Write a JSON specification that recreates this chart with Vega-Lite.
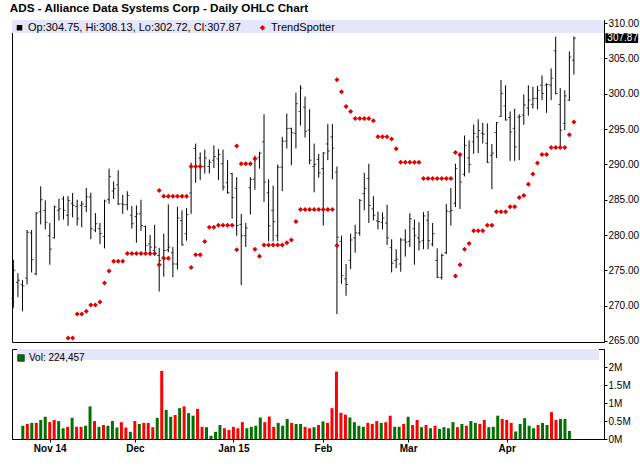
{
  "$schema": "https://vega.github.io/schema/vega-lite/v6.json",
  "background": "white",
  "padding": {"left": 9, "top": 2, "right": 0, "bottom": 0},
  "title": {"text": "ADS - Alliance Data Systems Corp - Daily OHLC Chart", "anchor": "start", "offset": 3, "dx": -1, "fontSize": 11.7, "font": "Liberation Sans", "fontWeight": "bold", "color": "black"},
  "datasets": {
    "ohlc": [
      {"i": 0, "date": "2014-10-23", "o": 271.0, "h": 276.5, "l": 269.7, "c": 275.0, "v": null},
      {"i": 1, "date": "2014-10-24", "o": 273.3, "h": 274.6, "l": 271.2, "c": 273.6, "v": 370000},
      {"i": 2, "date": "2014-10-27", "o": 273.0, "h": 273.6, "l": 269.2, "c": 272.8, "v": 420000},
      {"i": 3, "date": "2014-10-28", "o": 273.9, "h": 280.7, "l": 273.0, "c": 280.4, "v": 450000},
      {"i": 4, "date": "2014-10-29", "o": 280.3, "h": 280.7, "l": 274.7, "c": 276.5, "v": 450000},
      {"i": 5, "date": "2014-10-30", "o": 274.5, "h": 283.25, "l": 274.3, "c": 283.1, "v": 530000},
      {"i": 6, "date": "2014-10-31", "o": 283.3, "h": 286.9, "l": 281.5, "c": 285.0, "v": 620000},
      {"i": 7, "date": "2014-11-03", "o": 283.5, "h": 284.9, "l": 280.8, "c": 281.8, "v": 470000},
      {"i": 8, "date": "2014-11-04", "o": 279.9, "h": 281.7, "l": 275.8, "c": 278.0, "v": 530000},
      {"i": 9, "date": "2014-11-05", "o": 279.6, "h": 284.15, "l": 279.5, "c": 284.0, "v": 500000},
      {"i": 10, "date": "2014-11-06", "o": 283.5, "h": 285.14, "l": 282.06, "c": 283.7, "v": 300000},
      {"i": 11, "date": "2014-11-07", "o": 285.1, "h": 285.5, "l": 282.2, "c": 283.5, "v": 340000},
      {"i": 12, "date": "2014-11-10", "o": 282.8, "h": 285.5, "l": 281.3, "c": 284.9, "v": 590000},
      {"i": 13, "date": "2014-11-11", "o": 284.5, "h": 285.95, "l": 282.5, "c": 284.2, "v": 340000},
      {"i": 14, "date": "2014-11-12", "o": 284.05, "h": 285.0, "l": 281.35, "c": 282.3, "v": 340000},
      {"i": 15, "date": "2014-11-13", "o": 284.2, "h": 284.8, "l": 281.1, "c": 284.4, "v": 370000},
      {"i": 16, "date": "2014-11-14", "o": 284.05, "h": 286.66, "l": 283.25, "c": 285.4, "v": 910000},
      {"i": 17, "date": "2014-11-17", "o": 285.4, "h": 286.0, "l": 279.4, "c": 280.9, "v": 500000},
      {"i": 18, "date": "2014-11-18", "o": 280.7, "h": 283.1, "l": 280.4, "c": 281.6, "v": 340000},
      {"i": 19, "date": "2014-11-19", "o": 280.9, "h": 281.7, "l": 278.7, "c": 280.2, "v": 390000},
      {"i": 20, "date": "2014-11-20", "o": 279.8, "h": 285.0, "l": 278.1, "c": 284.8, "v": 370000},
      {"i": 21, "date": "2014-11-21", "o": 285.05, "h": 289.4, "l": 284.43, "c": 288.3, "v": 500000},
      {"i": 22, "date": "2014-11-24", "o": 286.23, "h": 287.6, "l": 285.1, "c": 286.56, "v": 320000},
      {"i": 23, "date": "2014-11-25", "o": 287.1, "h": 289.17, "l": 284.24, "c": 284.4, "v": 470000},
      {"i": 24, "date": "2014-11-26", "o": 284.4, "h": 285.7, "l": 283.0, "c": 284.3, "v": 320000},
      {"i": 25, "date": "2014-11-28", "o": 284.3, "h": 286.2, "l": 283.5, "c": 285.6, "v": 200000},
      {"i": 26, "date": "2014-12-01", "o": 282.8, "h": 284.1, "l": 280.9, "c": 281.6, "v": 500000},
      {"i": 27, "date": "2014-12-02", "o": 282.6, "h": 284.2, "l": 278.9, "c": 283.0, "v": 420000},
      {"i": 28, "date": "2014-12-03", "o": 283.0, "h": 285.0, "l": 280.6, "c": 281.35, "v": 450000},
      {"i": 29, "date": "2014-12-04", "o": 281.2, "h": 281.35, "l": 277.7, "c": 278.5, "v": 450000},
      {"i": 30, "date": "2014-12-05", "o": 278.75, "h": 280.0, "l": 277.1, "c": 278.3, "v": 330000},
      {"i": 31, "date": "2014-12-08", "o": 277.8, "h": 281.45, "l": 277.1, "c": 278.3, "v": 590000},
      {"i": 32, "date": "2014-12-09", "o": 277.1, "h": 278.2, "l": 272.0, "c": 276.4, "v": 1900000},
      {"i": 33, "date": "2014-12-10", "o": 276.9, "h": 280.2, "l": 274.1, "c": 277.8, "v": 810000},
      {"i": 34, "date": "2014-12-11", "o": 277.9, "h": 284.34, "l": 277.57, "c": 278.3, "v": 620000},
      {"i": 35, "date": "2014-12-12", "o": 277.5, "h": 278.3, "l": 274.0, "c": 275.9, "v": 670000},
      {"i": 36, "date": "2014-12-15", "o": 275.9, "h": 284.0, "l": 275.1, "c": 282.4, "v": 860000},
      {"i": 37, "date": "2014-12-16", "o": 282.06, "h": 283.5, "l": 278.5, "c": 278.6, "v": 910000},
      {"i": 38, "date": "2014-12-17", "o": 280.2, "h": 283.8, "l": 279.2, "c": 282.9, "v": 720000},
      {"i": 39, "date": "2014-12-18", "o": 285.95, "h": 290.25, "l": 283.0, "c": 289.7, "v": 650000},
      {"i": 40, "date": "2014-12-19", "o": 292.25, "h": 292.95, "l": 287.4, "c": 289.7, "v": 840000},
      {"i": 41, "date": "2014-12-22", "o": 290.9, "h": 291.7, "l": 287.8, "c": 289.7, "v": 340000},
      {"i": 42, "date": "2014-12-23", "o": 289.7, "h": 292.1, "l": 288.7, "c": 290.9, "v": 330000},
      {"i": 43, "date": "2014-12-24", "o": 289.7, "h": 290.7, "l": 288.7, "c": 290.3, "v": 90000},
      {"i": 44, "date": "2014-12-26", "o": 290.6, "h": 292.7, "l": 289.5, "c": 291.1, "v": 200000},
      {"i": 45, "date": "2014-12-29", "o": 290.8, "h": 292.2, "l": 287.8, "c": 291.4, "v": 390000},
      {"i": 46, "date": "2014-12-30", "o": 290.1, "h": 292.1, "l": 286.3, "c": 286.8, "v": 300000},
      {"i": 47, "date": "2014-12-31", "o": 287.4, "h": 290.6, "l": 285.85, "c": 286.0, "v": 250000},
      {"i": 48, "date": "2015-01-02", "o": 288.7, "h": 288.8, "l": 282.3, "c": 285.3, "v": 340000},
      {"i": 49, "date": "2015-01-05", "o": 286.6, "h": 288.2, "l": 279.9, "c": 281.35, "v": 300000},
      {"i": 50, "date": "2015-01-06", "o": 281.5, "h": 283.0, "l": 272.9, "c": 279.9, "v": 470000},
      {"i": 51, "date": "2015-01-07", "o": 279.9, "h": 281.7, "l": 278.3, "c": 281.0, "v": 300000},
      {"i": 52, "date": "2015-01-08", "o": 286.7, "h": 288.2, "l": 282.9, "c": 287.9, "v": 340000},
      {"i": 53, "date": "2015-01-09", "o": 287.9, "h": 291.25, "l": 286.4, "c": 290.8, "v": 370000},
      {"i": 54, "date": "2015-01-12", "o": 291.0, "h": 291.8, "l": 289.4, "c": 291.6, "v": 600000},
      {"i": 55, "date": "2015-01-13", "o": 293.2, "h": 297.1, "l": 284.7, "c": 287.5, "v": 470000},
      {"i": 56, "date": "2015-01-14", "o": 286.0, "h": 287.9, "l": 279.1, "c": 281.3, "v": 630000},
      {"i": 57, "date": "2015-01-15", "o": 283.5, "h": 287.0, "l": 279.1, "c": 281.9, "v": 340000},
      {"i": 58, "date": "2015-01-16", "o": 279.9, "h": 289.97, "l": 279.1, "c": 289.6, "v": 450000},
      {"i": 59, "date": "2015-01-20", "o": 289.6, "h": 293.9, "l": 286.2, "c": 293.3, "v": 370000},
      {"i": 60, "date": "2015-01-21", "o": 293.3, "h": 297.2, "l": 292.25, "c": 295.1, "v": 560000},
      {"i": 61, "date": "2015-01-22", "o": 295.1, "h": 295.2, "l": 289.9, "c": 294.5, "v": 450000},
      {"i": 62, "date": "2015-01-23", "o": 294.4, "h": 300.15, "l": 292.25, "c": 298.6, "v": 420000},
      {"i": 63, "date": "2015-01-26", "o": 297.5, "h": 301.2, "l": 295.5, "c": 300.8, "v": 420000},
      {"i": 64, "date": "2015-01-27", "o": 298.1, "h": 299.6, "l": 293.8, "c": 294.7, "v": 340000},
      {"i": 65, "date": "2015-01-28", "o": 294.85, "h": 297.8, "l": 290.0, "c": 290.6, "v": 300000},
      {"i": 66, "date": "2015-01-29", "o": 289.7, "h": 292.95, "l": 286.05, "c": 290.0, "v": 330000},
      {"i": 67, "date": "2015-01-30", "o": 290.7, "h": 291.5, "l": 288.1, "c": 288.8, "v": 390000},
      {"i": 68, "date": "2015-02-02", "o": 289.4, "h": 291.75, "l": 281.35, "c": 291.6, "v": 490000},
      {"i": 69, "date": "2015-02-03", "o": 292.9, "h": 295.7, "l": 290.6, "c": 291.9, "v": 450000},
      {"i": 70, "date": "2015-02-04", "o": 293.9, "h": 295.75, "l": 287.9, "c": 292.3, "v": 860000},
      {"i": 71, "date": "2015-02-05", "o": 288.9, "h": 289.7, "l": 268.8, "c": 279.7, "v": 1880000},
      {"i": 72, "date": "2015-02-06", "o": 279.1, "h": 279.9, "l": 273.1, "c": 274.25, "v": 730000},
      {"i": 73, "date": "2015-02-09", "o": 273.8, "h": 275.9, "l": 271.4, "c": 273.0, "v": 680000},
      {"i": 74, "date": "2015-02-10", "o": 276.4, "h": 280.2, "l": 275.2, "c": 279.3, "v": 600000},
      {"i": 75, "date": "2015-02-11", "o": 279.6, "h": 281.45, "l": 277.5, "c": 280.3, "v": 470000},
      {"i": 76, "date": "2015-02-12", "o": 280.3, "h": 285.1, "l": 279.9, "c": 284.9, "v": 370000},
      {"i": 77, "date": "2015-02-13", "o": 285.85, "h": 288.8, "l": 283.5, "c": 286.6, "v": 340000},
      {"i": 78, "date": "2015-02-17", "o": 288.0, "h": 290.1, "l": 281.7, "c": 284.2, "v": 450000},
      {"i": 79, "date": "2015-02-18", "o": 283.7, "h": 285.5, "l": 282.06, "c": 282.8, "v": 420000},
      {"i": 80, "date": "2015-02-19", "o": 282.0, "h": 283.3, "l": 280.8, "c": 281.9, "v": 500000},
      {"i": 81, "date": "2015-02-20", "o": 281.8, "h": 283.2, "l": 280.8, "c": 282.4, "v": 450000},
      {"i": 82, "date": "2015-02-23", "o": 281.7, "h": 284.3, "l": 278.6, "c": 279.6, "v": 470000},
      {"i": 83, "date": "2015-02-24", "o": 278.2, "h": 279.4, "l": 274.7, "c": 276.0, "v": 650000},
      {"i": 84, "date": "2015-02-25", "o": 276.4, "h": 278.0, "l": 275.3, "c": 276.6, "v": 340000},
      {"i": 85, "date": "2015-02-26", "o": 275.9, "h": 279.6, "l": 274.8, "c": 279.3, "v": 340000},
      {"i": 86, "date": "2015-02-27", "o": 279.3, "h": 280.8, "l": 276.95, "c": 279.0, "v": 420000},
      {"i": 87, "date": "2015-03-02", "o": 279.1, "h": 283.1, "l": 278.3, "c": 282.3, "v": 620000},
      {"i": 88, "date": "2015-03-03", "o": 280.9, "h": 282.2, "l": 275.8, "c": 279.9, "v": 390000},
      {"i": 89, "date": "2015-03-04", "o": 279.6, "h": 281.8, "l": 277.8, "c": 279.0, "v": 530000},
      {"i": 90, "date": "2015-03-05", "o": 279.2, "h": 283.25, "l": 278.0, "c": 282.7, "v": 330000},
      {"i": 91, "date": "2015-03-06", "o": 282.1, "h": 283.4, "l": 278.0, "c": 279.2, "v": 390000},
      {"i": 92, "date": "2015-03-09", "o": 278.7, "h": 281.7, "l": 278.4, "c": 280.2, "v": 300000},
      {"i": 93, "date": "2015-03-10", "o": 276.4, "h": 278.1, "l": 273.9, "c": 274.0, "v": 370000},
      {"i": 94, "date": "2015-03-11", "o": 274.0, "h": 277.4, "l": 273.7, "c": 277.1, "v": 280000},
      {"i": 95, "date": "2015-03-12", "o": 277.5, "h": 284.4, "l": 277.3, "c": 283.4, "v": 330000},
      {"i": 96, "date": "2015-03-13", "o": 283.3, "h": 286.66, "l": 281.35, "c": 283.5, "v": 300000},
      {"i": 97, "date": "2015-03-16", "o": 284.5, "h": 290.1, "l": 283.96, "c": 289.4, "v": 470000},
      {"i": 98, "date": "2015-03-17", "o": 291.2, "h": 291.3, "l": 283.7, "c": 287.5, "v": 330000},
      {"i": 99, "date": "2015-03-18", "o": 288.6, "h": 294.1, "l": 288.3, "c": 292.7, "v": 420000},
      {"i": 100, "date": "2015-03-19", "o": 290.9, "h": 293.4, "l": 288.8, "c": 290.0, "v": 370000},
      {"i": 101, "date": "2015-03-20", "o": 293.2, "h": 295.65, "l": 291.5, "c": 294.4, "v": 500000},
      {"i": 102, "date": "2015-03-23", "o": 293.9, "h": 296.4, "l": 291.6, "c": 294.8, "v": 450000},
      {"i": 103, "date": "2015-03-24", "o": 294.4, "h": 295.9, "l": 292.95, "c": 294.3, "v": 420000},
      {"i": 104, "date": "2015-03-25", "o": 293.0, "h": 295.8, "l": 290.2, "c": 290.3, "v": 530000},
      {"i": 105, "date": "2015-03-26", "o": 291.3, "h": 292.9, "l": 286.5, "c": 291.6, "v": 330000},
      {"i": 106, "date": "2015-03-27", "o": 294.5, "h": 296.0, "l": 290.9, "c": 295.9, "v": 340000},
      {"i": 107, "date": "2015-03-30", "o": 296.8, "h": 301.95, "l": 296.75, "c": 300.05, "v": 650000},
      {"i": 108, "date": "2015-03-31", "o": 298.3, "h": 301.2, "l": 296.2, "c": 296.3, "v": 560000},
      {"i": 109, "date": "2015-04-01", "o": 296.65, "h": 297.5, "l": 290.5, "c": 294.6, "v": 530000},
      {"i": 110, "date": "2015-04-02", "o": 295.1, "h": 297.9, "l": 290.5, "c": 292.5, "v": 450000},
      {"i": 111, "date": "2015-04-06", "o": 296.7, "h": 297.1, "l": 290.6, "c": 296.8, "v": 210000},
      {"i": 112, "date": "2015-04-07", "o": 297.0, "h": 299.9, "l": 295.6, "c": 298.4, "v": 420000},
      {"i": 113, "date": "2015-04-08", "o": 298.0, "h": 301.2, "l": 296.9, "c": 299.1, "v": 580000},
      {"i": 114, "date": "2015-04-09", "o": 298.5, "h": 301.0, "l": 297.9, "c": 299.35, "v": 370000},
      {"i": 115, "date": "2015-04-10", "o": 299.35, "h": 301.15, "l": 297.8, "c": 300.5, "v": 300000},
      {"i": 116, "date": "2015-04-13", "o": 301.2, "h": 302.6, "l": 299.1, "c": 300.05, "v": 390000},
      {"i": 117, "date": "2015-04-14", "o": 301.25, "h": 301.5, "l": 297.3, "c": 301.3, "v": 450000},
      {"i": 118, "date": "2015-04-15", "o": 301.25, "h": 303.6, "l": 299.1, "c": 302.2, "v": 390000},
      {"i": 119, "date": "2015-04-16", "o": 306.1, "h": 308.1, "l": 299.9, "c": 300.05, "v": 750000},
      {"i": 120, "date": "2015-04-17", "o": 298.5, "h": 300.8, "l": 292.5, "c": 294.85, "v": 530000},
      {"i": 121, "date": "2015-04-20", "o": 295.8, "h": 300.5, "l": 294.85, "c": 299.7, "v": 560000},
      {"i": 122, "date": "2015-04-21", "o": 299.1, "h": 306.0, "l": 299.0, "c": 305.2, "v": 560000},
      {"i": 123, "date": "2015-04-22", "o": 304.75, "h": 308.13, "l": 302.72, "c": 307.87, "v": 224457}
    ],
    "trend": [
      {"i": 12, "p": 265.4}, {"i": 13, "p": 265.4}, {"i": 14, "p": 268.8}, {"i": 15, "p": 268.8},
      {"i": 16, "p": 269.2}, {"i": 17, "p": 270.1}, {"i": 18, "p": 270.1}, {"i": 19, "p": 270.5},
      {"i": 20, "p": 273.2}, {"i": 21, "p": 274.9}, {"i": 22, "p": 276.3}, {"i": 23, "p": 276.3},
      {"i": 24, "p": 276.3}, {"i": 25, "p": 277.4}, {"i": 26, "p": 277.4}, {"i": 27, "p": 277.4},
      {"i": 28, "p": 277.4}, {"i": 29, "p": 277.4}, {"i": 30, "p": 277.4}, {"i": 31, "p": 277.4},
      {"i": 32, "p": 275.8}, {"i": 32, "p": 286.3}, {"i": 33, "p": 285.5}, {"i": 33, "p": 276.7},
      {"i": 34, "p": 285.5}, {"i": 34, "p": 276.7}, {"i": 35, "p": 285.5}, {"i": 36, "p": 285.5},
      {"i": 37, "p": 285.5}, {"i": 38, "p": 285.5}, {"i": 39, "p": 289.7}, {"i": 39, "p": 275.4},
      {"i": 40, "p": 289.7}, {"i": 40, "p": 277.2}, {"i": 41, "p": 289.7}, {"i": 41, "p": 277.2},
      {"i": 42, "p": 279.1}, {"i": 43, "p": 281.1}, {"i": 44, "p": 281.1}, {"i": 45, "p": 281.4},
      {"i": 46, "p": 281.4}, {"i": 47, "p": 281.4}, {"i": 48, "p": 281.4}, {"i": 49, "p": 292.6},
      {"i": 49, "p": 277.9}, {"i": 50, "p": 290.1}, {"i": 51, "p": 290.1}, {"i": 52, "p": 290.1},
      {"i": 53, "p": 290.8}, {"i": 53, "p": 278.0}, {"i": 54, "p": 277.0}, {"i": 55, "p": 278.6},
      {"i": 56, "p": 278.6}, {"i": 57, "p": 278.6}, {"i": 58, "p": 278.6}, {"i": 59, "p": 278.6},
      {"i": 60, "p": 278.9}, {"i": 61, "p": 279.3}, {"i": 62, "p": 281.9}, {"i": 63, "p": 283.6},
      {"i": 64, "p": 283.6}, {"i": 65, "p": 283.6}, {"i": 66, "p": 283.6}, {"i": 67, "p": 283.6},
      {"i": 68, "p": 283.6}, {"i": 69, "p": 283.6}, {"i": 70, "p": 283.6}, {"i": 71, "p": 302.0},
      {"i": 71, "p": 278.5}, {"i": 72, "p": 300.3}, {"i": 73, "p": 298.2}, {"i": 74, "p": 297.5},
      {"i": 75, "p": 296.5}, {"i": 76, "p": 296.5}, {"i": 77, "p": 296.5}, {"i": 78, "p": 296.5},
      {"i": 79, "p": 296.2}, {"i": 80, "p": 293.9}, {"i": 81, "p": 293.9}, {"i": 82, "p": 293.9},
      {"i": 83, "p": 293.6}, {"i": 84, "p": 292.2}, {"i": 85, "p": 290.3}, {"i": 86, "p": 290.3},
      {"i": 87, "p": 290.3}, {"i": 88, "p": 290.3}, {"i": 89, "p": 290.3}, {"i": 90, "p": 288.0},
      {"i": 91, "p": 288.0}, {"i": 92, "p": 288.0}, {"i": 93, "p": 288.0}, {"i": 94, "p": 288.0},
      {"i": 95, "p": 288.0}, {"i": 96, "p": 288.0}, {"i": 97, "p": 291.7}, {"i": 97, "p": 274.2},
      {"i": 98, "p": 291.4}, {"i": 98, "p": 275.8}, {"i": 99, "p": 278.0}, {"i": 100, "p": 278.8},
      {"i": 101, "p": 280.6}, {"i": 102, "p": 280.6}, {"i": 103, "p": 280.6}, {"i": 104, "p": 281.4},
      {"i": 105, "p": 281.4}, {"i": 106, "p": 283.3}, {"i": 107, "p": 283.3}, {"i": 108, "p": 283.3},
      {"i": 109, "p": 284.0}, {"i": 110, "p": 284.0}, {"i": 111, "p": 285.3}, {"i": 112, "p": 285.6},
      {"i": 113, "p": 287.2}, {"i": 114, "p": 288.65}, {"i": 115, "p": 290.2}, {"i": 116, "p": 291.4},
      {"i": 117, "p": 291.4}, {"i": 118, "p": 292.4}, {"i": 119, "p": 292.4}, {"i": 120, "p": 292.4},
      {"i": 121, "p": 292.4}, {"i": 122, "p": 294.2}, {"i": 123, "p": 296.0}
    ]
  },
  "spacing": 1,
  "resolve": {"scale": {"color": "independent", "shape": "independent"}},
  "vconcat": [
    {
      "width": 592,
      "height": 322,
      "layer": [
        {
          "data": {"values": [{}]},
          "mark": {"type": "rect", "fill": "#e6e6fa"},
          "encoding": {
            "x": {"datum": -0.3, "type": "quantitative", "scale": {"domain": [-0.3, 129.6], "nice": false, "zero": false}, "axis": null},
            "x2": {"datum": 129.6},
            "y": {"datum": 310.45, "type": "quantitative", "scale": {"domain": [264.85, 310.45], "nice": false, "zero": false},
                  "axis": {"orient": "right", "values": [265, 270, 275, 280, 285, 290, 295, 300, 305, 310], "format": ".2f", "labelOverlap": false}},
            "y2": {"datum": 308.6}
          }
        },
        {
          "data": {"name": "ohlc"},
          "mark": {"type": "rule", "color": "black", "strokeWidth": 1},
          "encoding": {
            "x": {"field": "i", "type": "quantitative", "axis": null},
            "y": {"field": "l", "type": "quantitative",
                  "axis": {"orient": "right", "values": [265, 270, 275, 280, 285, 290, 295, 300, 305, 310], "format": ".2f", "labelOverlap": false}},
            "y2": {"field": "h"}
          }
        },
        {
          "data": {"name": "ohlc"},
          "mark": {"type": "tick", "orient": "horizontal", "size": 2, "thickness": 1, "xOffset": -1, "color": "black"},
          "encoding": {
            "x": {"field": "i", "type": "quantitative", "axis": null},
            "y": {"field": "o", "type": "quantitative",
                  "axis": {"orient": "right", "values": [265, 270, 275, 280, 285, 290, 295, 300, 305, 310], "format": ".2f", "labelOverlap": false}}
          }
        },
        {
          "data": {"name": "ohlc"},
          "mark": {"type": "tick", "orient": "horizontal", "size": 2, "thickness": 1, "xOffset": 1, "color": "black"},
          "encoding": {
            "x": {"field": "i", "type": "quantitative", "axis": null},
            "y": {"field": "c", "type": "quantitative",
                  "axis": {"orient": "right", "values": [265, 270, 275, 280, 285, 290, 295, 300, 305, 310], "format": ".2f", "labelOverlap": false}}
          }
        },
        {
          "data": {"name": "trend"},
          "mark": {"type": "point", "filled": true, "size": 25, "opacity": 1},
          "encoding": {
            "x": {"field": "i", "type": "quantitative", "axis": null},
            "y": {"field": "p", "type": "quantitative",
                  "axis": {"orient": "right", "values": [265, 270, 275, 280, 285, 290, 295, 300, 305, 310], "format": ".2f", "labelOverlap": false}},
            "color": {"datum": "TrendSpotter", "type": "nominal",
                      "scale": {"domain": ["Op:304.75, Hi:308.13, Lo:302.72, Cl:307.87", "TrendSpotter"], "range": ["black", "#e00000"]},
                      "legend": {"orient": "top-left", "direction": "horizontal", "title": null, "offset": 2, "labelLimit": 0, "labelFontSize": 11, "columnPadding": 16}},
            "shape": {"datum": "TrendSpotter", "type": "nominal",
                      "scale": {"domain": ["Op:304.75, Hi:308.13, Lo:302.72, Cl:307.87", "TrendSpotter"], "range": ["square", "diamond"]},
                      "legend": {"orient": "top-left", "direction": "horizontal", "title": null, "offset": 2, "labelLimit": 0, "labelFontSize": 11, "columnPadding": 16}}
          }
        },
        {
          "data": {"values": [{}]},
          "mark": {"type": "rect", "fill": "black"},
          "encoding": {
            "x": {"datum": 129.9, "type": "quantitative", "axis": null},
            "x2": {"datum": 137.1},
            "y": {"datum": 307.18, "type": "quantitative",
                  "axis": {"orient": "right", "values": [265, 270, 275, 280, 285, 290, 295, 300, 305, 310], "format": ".2f", "labelOverlap": false}},
            "y2": {"datum": 308.56}
          }
        },
        {
          "data": {"name": "ohlc"},
          "transform": [{"filter": "datum.i == 123"}],
          "mark": {"type": "text", "align": "left", "baseline": "middle", "dx": 2, "color": "white", "font": "Liberation Sans", "fontSize": 10},
          "encoding": {
            "x": {"datum": 129.9, "type": "quantitative", "axis": null},
            "y": {"field": "c", "type": "quantitative",
                  "axis": {"orient": "right", "values": [265, 270, 275, 280, 285, 290, 295, 300, 305, 310], "format": ".2f", "labelOverlap": false}},
            "text": {"field": "c", "type": "quantitative", "format": ".2f"}
          }
        }
      ]
    },
    {
      "width": 592,
      "height": 90,
      "layer": [
        {
          "data": {"values": [{}]},
          "mark": {"type": "rect", "fill": "#e6e6fa"},
          "encoding": {
            "x": {"datum": -0.3, "type": "quantitative", "scale": {"domain": [-0.3, 129.6], "nice": false, "zero": false},
                  "axis": {"values": [7, 26, 48, 68, 87, 109], "labelFontWeight": "bold", "labelFlush": false, "labelOverlap": false,
                           "labelExpr": "datum.value == 7 ? 'Nov 14' : datum.value == 26 ? 'Dec' : datum.value == 48 ? 'Jan 15' : datum.value == 68 ? 'Feb' : datum.value == 87 ? 'Mar' : 'Apr'"}},
            "x2": {"datum": 129.6},
            "y": {"datum": 2510000, "type": "quantitative", "scale": {"domain": [0, 2510000], "nice": false},
                  "axis": {"orient": "right", "values": [0, 500000, 1000000, 1500000, 2000000], "labelOverlap": false, "labelExpr": "datum.value / 1000000 + 'M'"}},
            "y2": {"datum": 2200000}
          }
        },
        {
          "data": {"name": "ohlc"},
          "mark": {"type": "bar", "width": 3},
          "encoding": {
            "x": {"field": "i", "type": "quantitative",
                  "axis": {"values": [7, 26, 48, 68, 87, 109], "labelFontWeight": "bold", "labelFlush": false, "labelOverlap": false,
                           "labelExpr": "datum.value == 7 ? 'Nov 14' : datum.value == 26 ? 'Dec' : datum.value == 48 ? 'Jan 15' : datum.value == 68 ? 'Feb' : datum.value == 87 ? 'Mar' : 'Apr'"}},
            "y": {"field": "v", "type": "quantitative",
                  "axis": {"orient": "right", "values": [0, 500000, 1000000, 1500000, 2000000], "labelOverlap": false, "labelExpr": "datum.value / 1000000 + 'M'"}},
            "color": {"datum": "Vol: 224,457", "type": "nominal",
                      "scale": {"range": ["#007000"]},
                      "condition": {"test": "datum.c < datum.o", "value": "#ff0000"},
                      "legend": {"orient": "top-left", "direction": "horizontal", "title": null, "offset": 4, "symbolType": "square", "symbolSize": 45, "symbolStrokeColor": "black", "symbolStrokeWidth": 0.5}}
          }
        }
      ]
    }
  ],
  "config": {
    "font": "Liberation Sans",
    "view": {"stroke": "black", "strokeWidth": 1},
    "axis": {"labelFont": "Liberation Sans", "labelFontSize": 10, "labelColor": "black", "domainColor": "black", "tickColor": "black", "grid": false, "title": null, "tickSize": 3, "labelPadding": 1, "labelOverlap": false},
    "legend": {"labelFont": "Liberation Sans", "labelFontSize": 10, "labelColor": "black", "labelLimit": 0, "symbolSize": 30, "symbolStrokeWidth": 0, "labelOffset": 3, "columnPadding": 14, "padding": 0}
  }
}
